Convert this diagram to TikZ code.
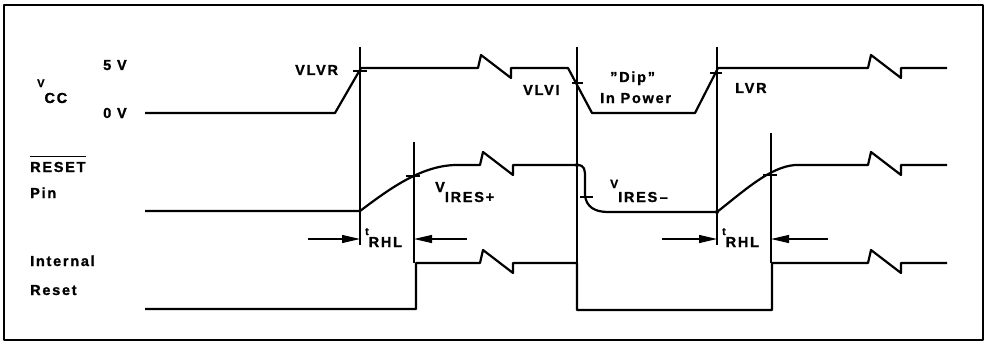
\documentclass[tikz,border=0pt]{standalone}
\usepackage{fontspec}
\setmainfont{Liberation Sans}[LetterSpace=12, BoldFeatures={FakeBold=1.2}]
\usetikzlibrary{arrows.meta}

\begin{document}
\begin{tikzpicture}[x=1pt, y=-1pt, line join=round,
	sig/.style={line width=2.2pt},
	edge_line/.style={line width=1.4pt},
	tick/.style={line width=1.1pt},
	lbl/.style={inner sep=0pt, anchor=base west, font=\bfseries\fontsize{14.5}{17}\selectfont},
	brk/.style={insert path={-- ++(3,-13) -- ++(30,23) -- ++(0,-10)}},
	dim/.style={line width=1.1pt, -{Triangle[length=18pt,width=8pt]}}]
				\useasboundingbox (0,0) rectangle (987,342);
				\draw[line width=1.3pt] (4,5) rectangle (983,340);
				\node[lbl] (fiveV) at (103,70) {5 V};
				\node[lbl] (zeroV) at (103,118) {0 V};
				\node[lbl] (vcc) at (37,103) {\raisebox{16pt}{\fontsize{11}{12}\selectfont V}CC};
				\node[lbl] (rst) at (30,172) {RESET};
				\draw[line width=1.1pt] ([yshift=5pt]rst.north west) -- ([yshift=5pt]rst.north east);
				\node[lbl] (pin) at (30,198) {Pin};
				\node[lbl] (intl) at (30,266) {Internal};
				\node[lbl] (rsttxt) at (30,295) {Reset};
				\node[lbl] (vlvr) at (295,75) {VLVR};
				\node[lbl] (vlvi) at (523,95) {VLVI};
				\node[lbl] (dip) at (610,82) {''Dip''};
				\node[lbl] (inpow) at (600,103) {In Power};
				\node[lbl] (lvr) at (735,93) {LVR};
				\node[lbl] (vires1) at (435,192) {V\raisebox{-10pt}{IRES+}};
				\node[lbl] (vires2) at (610,188) {{\fontsize{12}{12}\selectfont V}\raisebox{-14pt}{IRES\,--}};
				\node[lbl] (trhl1) at (365,247) {\raisebox{12pt}{\fontsize{10.5}{12}\selectfont t}RHL};
				\node[lbl] (trhl2) at (722,247) {\raisebox{12pt}{\fontsize{10.5}{12}\selectfont t}RHL};
				\draw[edge_line] (360,47) -- (360,245);
				\draw[edge_line] (414,142) -- (414,263);
				\draw[edge_line] (577,47) -- (577,263);
				\draw[edge_line] (717,47) -- (717,245);
				\draw[edge_line] (771,133) -- (771,263);
				\draw[sig] (145,113) -- (335,113) -- (361,68) -- (478,68) [brk] -- (568,68) -- (592,113) -- (695,113) -- (718,68) -- (868,68) [brk] -- (947,68);
				\draw[sig] (145,211) -- (360,211) .. controls (388,190) and (420,166) .. (455,165) -- (480,165) [brk] -- (577,165) .. controls (585,165) and (585,170) .. (585,178) -- (585,195) .. controls (586,207) and (595,212) .. (608,212) -- (717,212) .. controls (745,190) and (770,167) .. (795,165) -- (868,165) [brk] -- (947,165);
				\draw[sig] (145,309) -- (416,309) -- (416,263) -- (480,263) [brk] -- (577,263) -- (577,310) -- (772,310) -- (772,263) -- (868,263) [brk] -- (947,263);
				\draw[tick] (353,71) -- (367,71);
				\draw[tick] (572,83) -- (583,83);
				\draw[tick] (710,73) -- (722,73);
				\draw[tick] (406,176) -- (420,176);
				\draw[tick] (580,197) -- (593,197);
				\draw[tick] (763,175) -- (777,175);
				\fill (577,165) circle (2pt);
				\fill (717,212) circle (2pt);
				\draw[dim] (308,239) -- (360,239);
				\draw[dim] (467,239) -- (414,239);
				\draw[dim] (662,239) -- (717,239);
				\draw[dim] (828,239) -- (771,239);
\end{tikzpicture}
\end{document}
